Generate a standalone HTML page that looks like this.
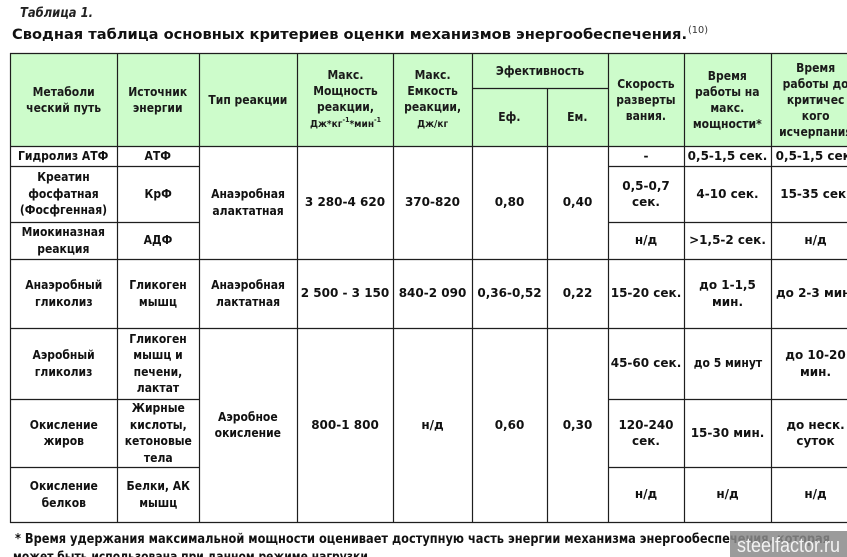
<!DOCTYPE html>
<html><head><meta charset="utf-8">
<style>
html,body{margin:0;padding:0;}
body{width:847px;height:557px;overflow:hidden;background:#fff;position:relative;font-family:"DejaVu Sans","Liberation Sans",sans-serif;}
#hdr{position:absolute;left:10px;top:53px;width:837px;height:93px;background:#cdfccb;}
.c{position:absolute;display:flex;align-items:center;justify-content:center;text-align:center;font-weight:bold;font-size:12px;line-height:16.5px;color:#111;white-space:nowrap;}
.c span{display:inline-block;transform:scaleX(0.9);}
.c.n span{transform:none;}
.h{line-height:16px;color:#1a1a1a;}
.h small{font-size:10px;line-height:14px;}
.h sup{font-size:7px;vertical-align:5px;line-height:0;}
svg{position:absolute;left:0;top:0;}
</style></head><body>
<div id="hdr"></div>

<!-- header cells -->
<div class="c h" style="left:10px;top:53px;width:107px;height:93px;"><span>Метаболи<br>ческий путь</span></div>
<div class="c h" style="left:117px;top:53px;width:82px;height:93px;"><span>Источник<br>энергии</span></div>
<div class="c h" style="left:199px;top:53px;width:98px;height:93px;"><span>Тип реакции</span></div>
<div class="c h" style="left:297px;top:53px;width:96px;height:93px;"><span>Макс.<br>Мощность<br>реакции,<br><small>Дж*кг<sup>-1</sup>*мин<sup>-1</sup></small></span></div>
<div class="c h" style="left:393px;top:53px;width:79px;height:93px;"><span>Макс.<br>Емкость<br>реакции,<br><small>Дж/кг</small></span></div>
<div class="c h" style="left:472px;top:53px;width:136px;height:35px;"><span>Эфективность</span></div>
<div class="c h" style="left:472px;top:88px;width:75px;height:58px;"><span>Еф.</span></div>
<div class="c h" style="left:547px;top:88px;width:61px;height:58px;"><span>Ем.</span></div>
<div class="c h" style="left:608px;top:53px;width:76px;height:93px;"><span>Скорость<br>разверты<br>вания.</span></div>
<div class="c h" style="left:684px;top:53px;width:87px;height:93px;"><span>Время<br>работы на<br>макс.<br>мощности*</span></div>
<div class="c h" style="left:771px;top:53px;width:89px;height:93px;"><span>Время<br>работы до<br>критичес<br>кого<br>исчерпания</span></div>

<!-- body: col1 -->
<div class="c" style="left:10px;top:146px;width:107px;height:20px;"><span>Гидролиз АТФ</span></div>
<div class="c" style="left:10px;top:166px;width:107px;height:56px;"><span>Креатин<br>фосфатная<br>(Фосфгенная)</span></div>
<div class="c" style="left:10px;top:222px;width:107px;height:37px;"><span>Миокиназная<br>реакция</span></div>
<div class="c" style="left:10px;top:259px;width:107px;height:69px;"><span>Анаэробный<br>гликолиз</span></div>
<div class="c" style="left:10px;top:328px;width:107px;height:71px;"><span>Аэробный<br>гликолиз</span></div>
<div class="c" style="left:10px;top:399px;width:107px;height:68px;"><span>Окисление<br>жиров</span></div>
<div class="c" style="left:10px;top:467px;width:107px;height:55px;"><span>Окисление<br>белков</span></div>

<!-- col2 -->
<div class="c" style="left:117px;top:146px;width:82px;height:20px;"><span>АТФ</span></div>
<div class="c" style="left:117px;top:166px;width:82px;height:56px;"><span>КрФ</span></div>
<div class="c" style="left:117px;top:222px;width:82px;height:37px;"><span>АДФ</span></div>
<div class="c" style="left:117px;top:259px;width:82px;height:69px;"><span>Гликоген<br>мышц</span></div>
<div class="c" style="left:117px;top:328px;width:82px;height:71px;"><span>Гликоген<br>мышц и<br>печени,<br>лактат</span></div>
<div class="c" style="left:117px;top:399px;width:82px;height:68px;"><span>Жирные<br>кислоты,<br>кетоновые<br>тела</span></div>
<div class="c" style="left:117px;top:467px;width:82px;height:55px;"><span>Белки, АК<br>мышц</span></div>

<!-- merged cols 3-7 -->
<div class="c" style="left:199px;top:146px;width:98px;height:113px;"><span>Анаэробная<br>алактатная</span></div>
<div class="c n" style="left:297px;top:146px;width:96px;height:113px;"><span>3 280-4 620</span></div>
<div class="c n" style="left:393px;top:146px;width:79px;height:113px;"><span>370-820</span></div>
<div class="c n" style="left:472px;top:146px;width:75px;height:113px;"><span>0,80</span></div>
<div class="c n" style="left:547px;top:146px;width:61px;height:113px;"><span>0,40</span></div>

<div class="c" style="left:199px;top:259px;width:98px;height:69px;"><span>Анаэробная<br>лактатная</span></div>
<div class="c n" style="left:297px;top:259px;width:96px;height:69px;"><span>2 500 - 3 150</span></div>
<div class="c n" style="left:393px;top:259px;width:79px;height:69px;"><span>840-2 090</span></div>
<div class="c n" style="left:472px;top:259px;width:75px;height:69px;"><span>0,36-0,52</span></div>
<div class="c n" style="left:547px;top:259px;width:61px;height:69px;"><span>0,22</span></div>

<div class="c" style="left:199px;top:328px;width:98px;height:194px;"><span>Аэробное<br>окисление</span></div>
<div class="c n" style="left:297px;top:328px;width:96px;height:194px;"><span>800-1 800</span></div>
<div class="c n" style="left:393px;top:328px;width:79px;height:194px;"><span>н/д</span></div>
<div class="c n" style="left:472px;top:328px;width:75px;height:194px;"><span>0,60</span></div>
<div class="c n" style="left:547px;top:328px;width:61px;height:194px;"><span>0,30</span></div>

<!-- col8 -->
<div class="c n" style="left:608px;top:146px;width:76px;height:20px;"><span>-</span></div>
<div class="c n" style="left:608px;top:166px;width:76px;height:56px;"><span>0,5-0,7<br>сек.</span></div>
<div class="c n" style="left:608px;top:222px;width:76px;height:37px;"><span>н/д</span></div>
<div class="c n" style="left:608px;top:259px;width:76px;height:69px;"><span>15-20 сек.</span></div>
<div class="c n" style="left:608px;top:328px;width:76px;height:71px;"><span>45-60 сек.</span></div>
<div class="c n" style="left:608px;top:399px;width:76px;height:68px;"><span>120-240<br>сек.</span></div>
<div class="c n" style="left:608px;top:467px;width:76px;height:55px;"><span>н/д</span></div>

<!-- col9 -->
<div class="c n" style="left:684px;top:146px;width:87px;height:20px;"><span>0,5-1,5 сек.</span></div>
<div class="c n" style="left:684px;top:166px;width:87px;height:56px;"><span>4-10 сек.</span></div>
<div class="c n" style="left:684px;top:222px;width:87px;height:37px;"><span>&gt;1,5-2 сек.</span></div>
<div class="c n" style="left:684px;top:259px;width:87px;height:69px;"><span>до 1-1,5<br>мин.</span></div>
<div class="c" style="left:684px;top:328px;width:87px;height:71px;"><span>до 5 минут</span></div>
<div class="c n" style="left:684px;top:399px;width:87px;height:68px;"><span>15-30 мин.</span></div>
<div class="c n" style="left:684px;top:467px;width:87px;height:55px;"><span>н/д</span></div>

<!-- col10 -->
<div class="c n" style="left:771px;top:146px;width:89px;height:20px;"><span>0,5-1,5 сек.</span></div>
<div class="c n" style="left:771px;top:166px;width:89px;height:56px;"><span>15-35 сек.</span></div>
<div class="c n" style="left:771px;top:222px;width:89px;height:37px;"><span>н/д</span></div>
<div class="c n" style="left:771px;top:259px;width:89px;height:69px;"><span>до 2-3 мин.</span></div>
<div class="c n" style="left:771px;top:328px;width:89px;height:71px;"><span>до 10-20<br>мин.</span></div>
<div class="c n" style="left:771px;top:399px;width:89px;height:68px;"><span>до неск.<br>суток</span></div>
<div class="c n" style="left:771px;top:467px;width:89px;height:55px;"><span>н/д</span></div>

<svg width="847" height="557" viewBox="0 0 847 557" xmlns="http://www.w3.org/2000/svg">
  <g stroke="#1e1e1e" stroke-width="1.2" fill="none">
    <line x1="10" y1="53.5" x2="847" y2="53.5"/>
    <line x1="472" y1="88.5" x2="608" y2="88.5"/>
    <line x1="10" y1="146.5" x2="847" y2="146.5"/>
    <line x1="10" y1="166.5" x2="199" y2="166.5"/>
    <line x1="608" y1="166.5" x2="847" y2="166.5"/>
    <line x1="10" y1="222.5" x2="199" y2="222.5"/>
    <line x1="608" y1="222.5" x2="847" y2="222.5"/>
    <line x1="10" y1="259.5" x2="847" y2="259.5"/>
    <line x1="10" y1="328.5" x2="847" y2="328.5"/>
    <line x1="10" y1="399.5" x2="199" y2="399.5"/>
    <line x1="608" y1="399.5" x2="847" y2="399.5"/>
    <line x1="10" y1="467.5" x2="199" y2="467.5"/>
    <line x1="608" y1="467.5" x2="847" y2="467.5"/>
    <line x1="10" y1="522.5" x2="847" y2="522.5"/>
    <line x1="10.5" y1="53" x2="10.5" y2="523"/>
    <line x1="117.5" y1="53" x2="117.5" y2="523"/>
    <line x1="199.5" y1="53" x2="199.5" y2="523"/>
    <line x1="297.5" y1="53" x2="297.5" y2="523"/>
    <line x1="393.5" y1="53" x2="393.5" y2="523"/>
    <line x1="472.5" y1="53" x2="472.5" y2="523"/>
    <line x1="547.5" y1="88" x2="547.5" y2="523"/>
    <line x1="608.5" y1="53" x2="608.5" y2="523"/>
    <line x1="684.5" y1="53" x2="684.5" y2="523"/>
    <line x1="771.5" y1="53" x2="771.5" y2="523"/>
  </g>
  <text x="20" y="17" font-family="DejaVu Sans, sans-serif" font-size="13" font-weight="bold" font-style="italic" fill="#222" textLength="73" lengthAdjust="spacingAndGlyphs">Таблица 1.</text>
  <text x="12" y="39" font-family="DejaVu Sans, sans-serif" font-size="14" font-weight="bold" fill="#111" textLength="675" lengthAdjust="spacingAndGlyphs">Сводная таблица основных критериев оценки механизмов энергообеспечения.</text>
  <text x="688" y="33" font-family="DejaVu Sans, sans-serif" font-size="10" fill="#333" textLength="20" lengthAdjust="spacingAndGlyphs">(10)</text>
  <text x="15" y="543" font-family="DejaVu Sans, sans-serif" font-size="13" font-weight="bold" fill="#111" textLength="815" lengthAdjust="spacingAndGlyphs">* Время удержания максимальной мощности оценивает доступную часть энергии механизма энергообеспечения, которая</text>
  <text x="13" y="561" font-family="DejaVu Sans, sans-serif" font-size="13" font-weight="bold" fill="#111" textLength="359" lengthAdjust="spacingAndGlyphs">может быть использована при данном режиме нагрузки.</text>
  <rect x="730" y="531" width="117" height="26" fill="#8a8a8a" opacity="0.85"/>
  <text x="737" y="552" font-family="Liberation Sans, sans-serif" font-size="20" fill="#f2f2f2" textLength="103" lengthAdjust="spacingAndGlyphs">steelfactor.ru</text>
</svg>
</body></html>
